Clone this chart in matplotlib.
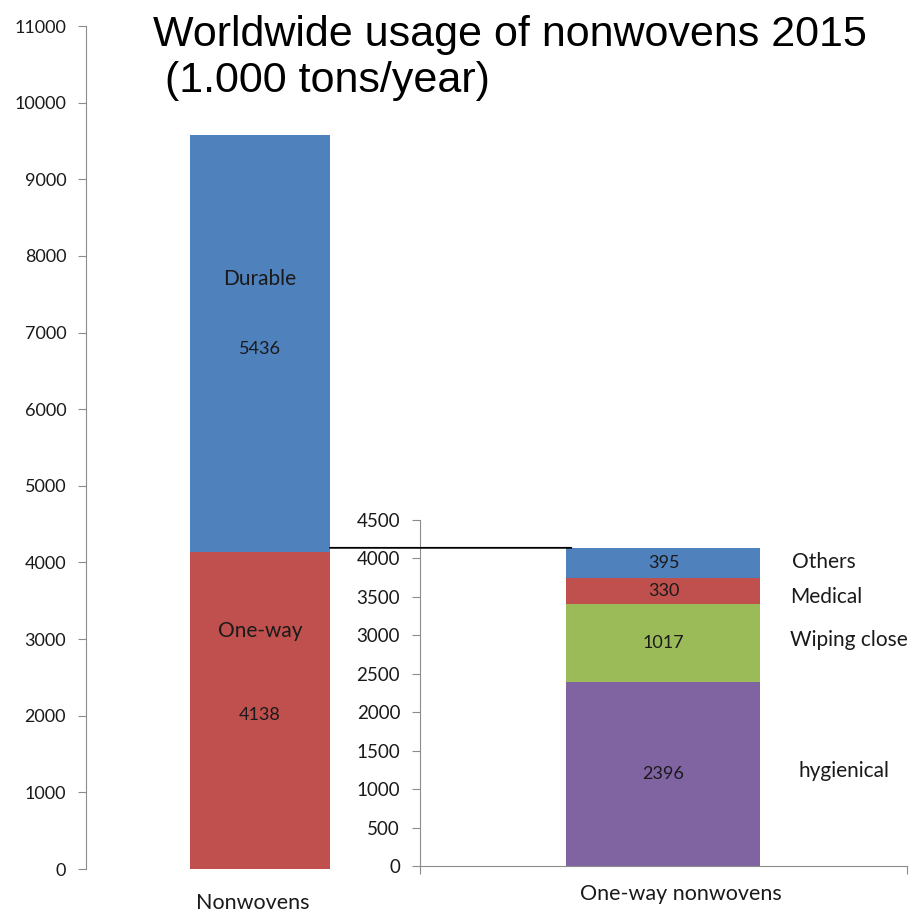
import matplotlib
matplotlib.use("Agg")
import matplotlib.pyplot as plt
from matplotlib.patches import ConnectionPatch
from matplotlib.transforms import blended_transform_factory

# ---- data ----
title = "Worldwide usage of nonwovens 2015\n (1.000 tons/year)"
left_category = "Nonwovens"
left_segments = ["One-way", "Durable"]
left_values = [4138, 5436]
right_category = "One-way nonwovens"
right_segments = ["hygienical", "Wiping close", "Medical", "Others"]
right_values = [2396, 1017, 330, 395]
left_ticks = list(range(0, 11001, 1000))
right_ticks = list(range(0, 4501, 500))

left_colors = ["#C0504D", "#4F81BD"]
right_colors = ["#8064A2", "#9BBB59", "#C0504D", "#4F81BD"]

W, H = 912, 913
fig = plt.figure(figsize=(W / 100, H / 100), dpi=100)
font = ["Lato", "DejaVu Sans"]
spine_col = "#8c8c8c"
txt_col = "#1a1a1a"

def px_axes(x0, x1, ytop, ybot):
    return fig.add_axes([x0 / W, 1 - ybot / H, (x1 - x0) / W, (ybot - ytop) / H])

# left axes
ax1 = px_axes(86, 434, 26, 869)
ax1.set_xlim(-0.5, 0.5)
ax1.set_ylim(0, 11000)
bw1 = 140 / 348
bottom = 0
name_offsets = [84, 70]
for name, v, c, off in zip(left_segments, left_values, left_colors, name_offsets):
    ax1.bar(0, v, width=bw1, bottom=bottom, color=c, edgecolor="none")
    mid = bottom + v / 2
    ax1.annotate(f"{v}", (0, mid), xytext=(0, -5), textcoords="offset pixels",
                 ha="center", va="center", fontsize=13, family=font, color=txt_col)
    ax1.annotate(name, (0, mid), xytext=(0, off - 5), textcoords="offset pixels",
                 ha="center", va="center", fontsize=15, family=font, color=txt_col)
    bottom += v
ax1.set_yticks(left_ticks)
ax1.set_yticklabels([str(t) for t in left_ticks], family=font, fontsize=13, color=txt_col)
ax1.set_xticks([])
for s in ["top", "right", "bottom"]:
    ax1.spines[s].set_visible(False)
ax1.spines["left"].set_color(spine_col)
ax1.tick_params(axis="y", length=5.8, color=spine_col, pad=8.5)
ax1.text(-0.02, -0.04, left_category, transform=ax1.get_xaxis_transform(),
         ha="center", va="center", fontsize=15.5, family=font, color=txt_col)

# right axes
ax2 = px_axes(420, 907, 520, 866)
ax2.set_xlim(-0.5, 0.5)
ax2.set_ylim(0, 4500)
bw2 = 194 / 487
bottom = 0
side_offsets = [(8, 3), (0, 3), (0, -6), (2, 1)]
for name, v, c, off in zip(right_segments, right_values, right_colors, side_offsets):
    ax2.bar(0, v, width=bw2, bottom=bottom, color=c, edgecolor="none")
    mid = bottom + v / 2
    ax2.text(0, mid, f"{v}", ha="center", va="center", fontsize=13, family=font, color=txt_col)
    ax2.annotate(name, (0.26, mid), xytext=off, textcoords="offset pixels",
                 ha="left", va="center", fontsize=15, family=font, color=txt_col)
    bottom += v
ax2.set_yticks(right_ticks)
ax2.set_yticklabels([str(t) for t in right_ticks], family=font, fontsize=13.5, color=txt_col)
ax2.set_xticks([-0.5, 0.5])
ax2.set_xticklabels(["", ""])
for s in ["top", "right"]:
    ax2.spines[s].set_visible(False)
for s in ["left", "bottom"]:
    ax2.spines[s].set_color(spine_col)
ax2.tick_params(axis="both", length=5.8, color=spine_col)
ax2.tick_params(axis="y", pad=8.5)
ax2.text(0.035, -0.08, right_category, transform=ax2.get_xaxis_transform(),
         ha="center", va="center", fontsize=15.5, family=font, color=txt_col)

# connector line at one-way total (horizontal)
total_oneway = left_values[0]
transA = blended_transform_factory(ax1.transData, ax2.transData)
con = ConnectionPatch(xyA=(bw1 / 2, total_oneway), coordsA=transA,
                      xyB=(-bw2 / 2 + 0.01, total_oneway), coordsB=ax2.transData,
                      color="black", lw=1.3)
fig.add_artist(con)

fig.text(153 / W, 1 - 58 / H, title, ha="left", va="center", fontsize=31,
         family=["Liberation Sans", "DejaVu Sans"], color="black", linespacing=1.18)

fig.savefig("out.png", dpi=100, facecolor="white")
